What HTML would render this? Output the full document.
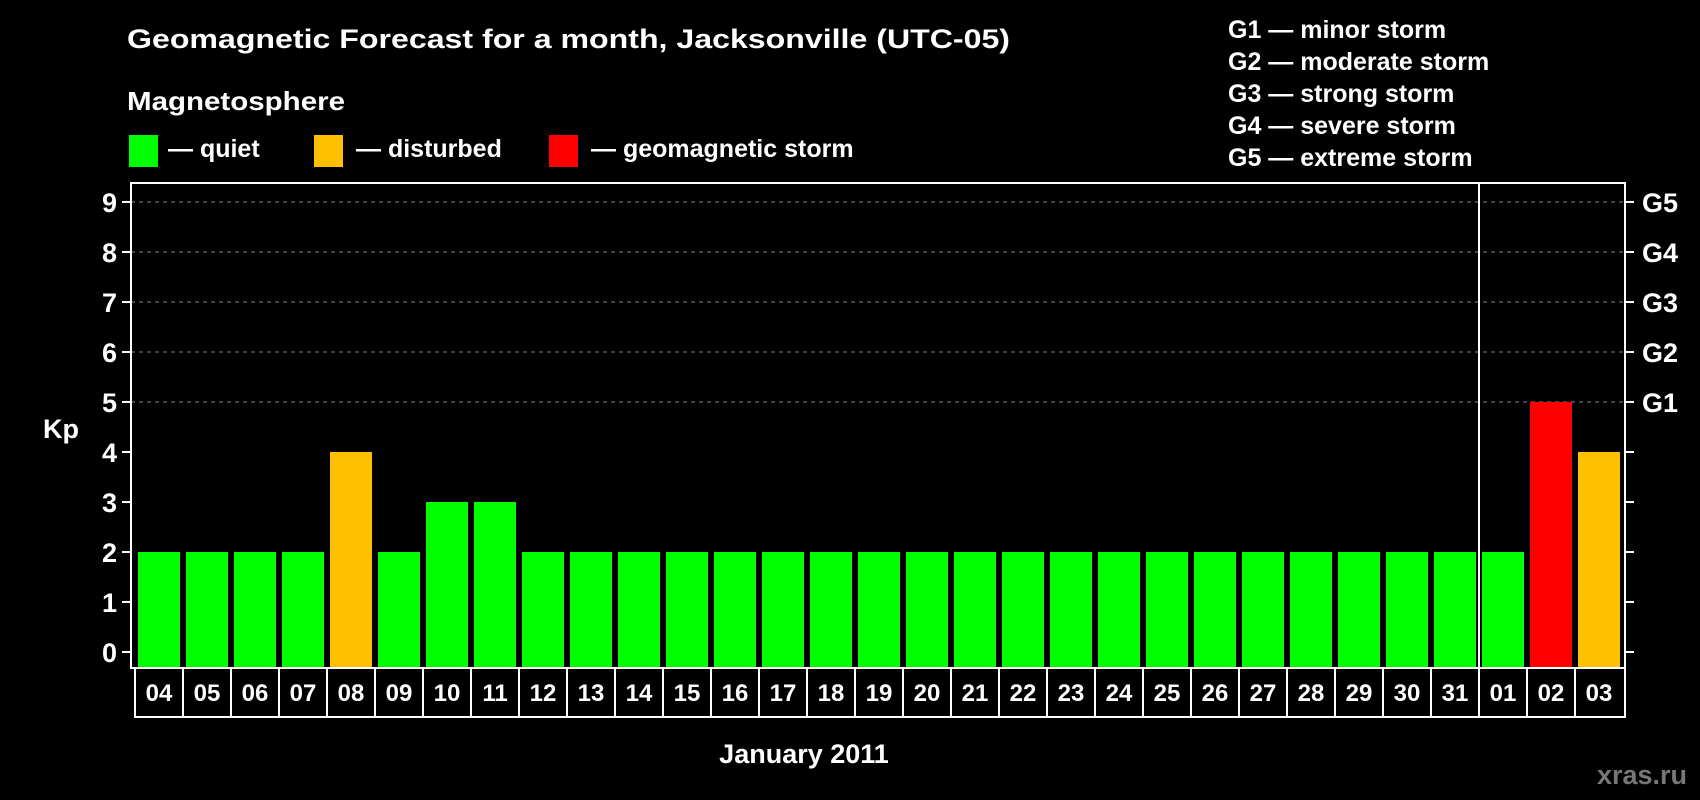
<!DOCTYPE html>
<html><head><meta charset="utf-8"><style>
html,body{margin:0;padding:0;background:#000;width:1700px;height:800px;overflow:hidden}
svg{display:block;font-family:"Liberation Sans",sans-serif;font-weight:bold}
</style></head><body>
<svg id="chart" width="1700" height="800" xmlns="http://www.w3.org/2000/svg">
<text x="127" y="48" fill="#fff" font-size="27" textLength="883" lengthAdjust="spacingAndGlyphs">Geomagnetic Forecast for a month, Jacksonville (UTC-05)</text>
<text x="127" y="110" fill="#fff" font-size="26" textLength="218" lengthAdjust="spacingAndGlyphs">Magnetosphere</text>
<g><rect x="129" y="135" width="29" height="32" fill="#00ff00"/><text x="168" y="157" fill="#fff" font-size="25">— quiet</text></g>
<g><rect x="314" y="135" width="29" height="32" fill="#ffc000"/><text x="356" y="157" fill="#fff" font-size="25">— disturbed</text></g>
<g><rect x="549" y="135" width="29" height="32" fill="#ff0000"/><text x="591" y="157" fill="#fff" font-size="25">— geomagnetic storm</text></g>
<g fill="#fff" font-size="25">
<text x="1228" y="38">G1 — minor storm</text>
<text x="1228" y="70">G2 — moderate storm</text>
<text x="1228" y="102">G3 — strong storm</text>
<text x="1228" y="134">G4 — severe storm</text>
<text x="1228" y="166">G5 — extreme storm</text>
</g>
<text x="43" y="438" fill="#fff" font-size="27">Kp</text>
<text x="804" y="763" fill="#fff" font-size="27" text-anchor="middle">January 2011</text>
<text x="1687" y="784" fill="#777" font-size="27" text-anchor="end">xras.ru</text>
<g id="grid"></g><g id="bars"></g><g id="axes"></g>
</svg>
<script>
const days=["04","05","06","07","08","09","10","11","12","13","14","15","16","17","18","19","20","21","22","23","24","25","26","27","28","29","30","31","01","02","03"];
const kp=[2,2,2,2,4,2,3,3,2,2,2,2,2,2,2,2,2,2,2,2,2,2,2,2,2,2,2,2,2,5,4];
const yTicks=[0,1,2,3,4,5,6,7,8,9];
const gLabels=["G1","G2","G3","G4","G5"];
const NS="http://www.w3.org/2000/svg";
const L=131,R=1625,T=183,B=668,y0=652,unit=50,step=48,bx0=138,bw=42;
const y=v=>y0-v*unit, x=i=>bx0+i*step;
function mk(tag,attrs,parent){const e=document.createElementNS(NS,tag);for(const k in attrs)e.setAttribute(k,attrs[k]);parent.appendChild(e);return e;}
const grid=document.getElementById('grid'),bars=document.getElementById('bars'),axes=document.getElementById('axes');
yTicks.forEach(v=>{
  if(v>=5){const g=mk('line',{x1:L,x2:R,y1:y(v),y2:y(v),stroke:'#888','stroke-dasharray':'4 4','stroke-width':1},grid);
  
  }
  const t=mk('line',{x1:L-9,x2:L,y1:y(v),y2:y(v),stroke:'#fff','stroke-width':2},axes);
  
  
  const t2=mk('line',{x1:R,x2:R+9,y1:y(v),y2:y(v),stroke:'#fff','stroke-width':2},axes);
  
  
  const lb=mk('text',{x:L-14,y:y(v)+10,fill:'#fff','font-size':27,'text-anchor':'end'},axes);lb.textContent=v;
  
  
});
gLabels.forEach((g,i)=>{const lb=mk('text',{x:R+17,y:y(5+i)+10,fill:'#fff','font-size':27},axes);lb.textContent=g;
  
  });
kp.forEach((v,i)=>{const c=v>=5?'#ff0000':(v>=4?'#ffc000':'#00ff00');
  const r=mk('rect',{x:x(i),y:y(v),width:bw,height:B-y(v),fill:c},bars);
  
  });
const frame=mk('rect',{x:L,y:T,width:R-L,height:B-T,fill:'none',stroke:'#fff','stroke-width':2},axes);


const div=mk('line',{x1:x(28)-3,x2:x(28)-3,y1:T,y2:717,stroke:'#fff','stroke-width':2},axes);


const cellL=135;
const row=mk('rect',{x:cellL,y:B,width:R-cellL,height:49,fill:'none',stroke:'#fff','stroke-width':2},axes);


days.forEach((d,i)=>{
  if(i>0){const s=mk('line',{x1:cellL+i*step,x2:cellL+i*step,y1:B,y2:717,stroke:'#fff','stroke-width':2},axes);
  
  }
  const t=mk('text',{x:cellL+i*step+step/2,y:701,fill:'#fff','font-size':24,'text-anchor':'middle'},axes);t.textContent=d;
  
  
});
</script>
</body></html>
